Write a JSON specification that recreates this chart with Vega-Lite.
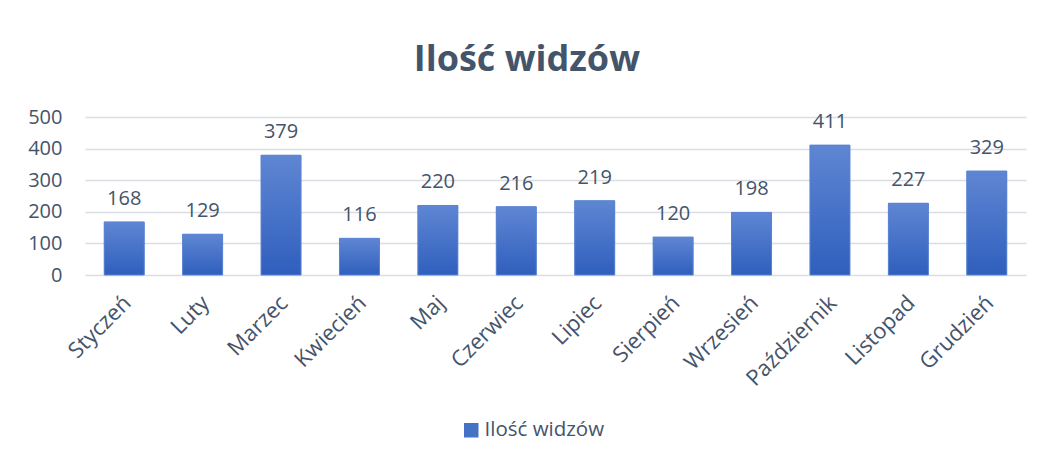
{
  "$schema": "https://vega.github.io/schema/vega-lite/v6.json",
  "autosize": "none",
  "width": 941,
  "height": 158,
  "padding": {"left": 85, "top": 117, "right": 14, "bottom": 186},
  "background": "white",
  "title": {
    "text": "Ilość widzów",
    "fontSize": 36,
    "font": "Open Sans",
    "fontWeight": "bold",
    "color": "#44546a",
    "anchor": "middle",
    "frame": "bounds",
    "offset": 28
  },
  "data": {
    "values": [
      {"month": "Styczeń", "value": 168, "label": "168", "series": "Ilość widzów"},
      {"month": "Luty", "value": 129, "label": "129", "series": "Ilość widzów"},
      {"month": "Marzec", "value": 379, "label": "379", "series": "Ilość widzów"},
      {"month": "Kwiecień", "value": 116, "label": "116", "series": "Ilość widzów"},
      {"month": "Maj", "value": 220, "label": "220", "series": "Ilość widzów"},
      {"month": "Czerwiec", "value": 216, "label": "216", "series": "Ilość widzów"},
      {"month": "Lipiec", "value": 235, "label": "219", "series": "Ilość widzów"},
      {"month": "Sierpień", "value": 120, "label": "120", "series": "Ilość widzów"},
      {"month": "Wrzesień", "value": 198, "label": "198", "series": "Ilość widzów"},
      {"month": "Październik", "value": 411, "label": "411", "series": "Ilość widzów"},
      {"month": "Listopad", "value": 227, "label": "227", "series": "Ilość widzów"},
      {"month": "Grudzień", "value": 329, "label": "329", "series": "Ilość widzów"}
    ]
  },
  "encoding": {
    "x": {
      "field": "month",
      "type": "nominal",
      "sort": null,
      "scale": {"paddingInner": 0.49, "paddingOuter": 0.245},
      "axis": {
        "title": null,
        "labelAngle": -45,
        "labelAlign": "right",
        "labelBaseline": "top",
        "labelFontSize": 22,
        "labelFont": "Open Sans",
        "labelColor": "#44546a",
        "ticks": false,
        "domain": false,
        "labelPadding": 17,
        "labelOffset": -4
      }
    },
    "y": {
      "field": "value",
      "type": "quantitative",
      "scale": {"domain": [0, 500]},
      "axis": {
        "title": null,
        "values": [0, 100, 200, 300, 400, 500],
        "labelFontSize": 20,
        "labelFont": "Open Sans",
        "labelColor": "#44546a",
        "ticks": false,
        "domain": false,
        "labelPadding": 23,
        "gridColor": "#dadee4",
        "gridWidth": 1.5
      }
    }
  },
  "layer": [
    {
      "mark": {"type": "bar"},
      "encoding": {
        "color": {
          "field": "series",
          "type": "nominal",
          "scale": {"range": ["#4472c4"]},
          "legend": {
            "title": null,
            "orient": "none",
            "legendX": 376,
            "legendY": 303,
            "direction": "horizontal",
            "symbolType": "square",
            "symbolSize": 210,
            "labelFontSize": 20.5,
            "labelFont": "Open Sans",
            "labelColor": "#44546a",
            "labelOffset": 3,
            "symbolStrokeWidth": 0
          }
        }
      }
    },
    {
      "mark": {
        "type": "bar",
        "stroke": "#5a83d2",
        "strokeWidth": 1,
        "fill": {
          "gradient": "linear",
          "x1": 0, "y1": 0, "x2": 0, "y2": 1,
          "stops": [
            {"offset": 0, "color": "#5f86d3"},
            {"offset": 1, "color": "#2f5fbd"}
          ]
        }
      }
    },
    {
      "mark": {
        "type": "text",
        "baseline": "alphabetic",
        "dy": -17,
        "fontSize": 20,
        "font": "Open Sans",
        "color": "#44546a"
      },
      "encoding": {"text": {"field": "label"}}
    }
  ],
  "config": {"view": {"stroke": null}}
}
